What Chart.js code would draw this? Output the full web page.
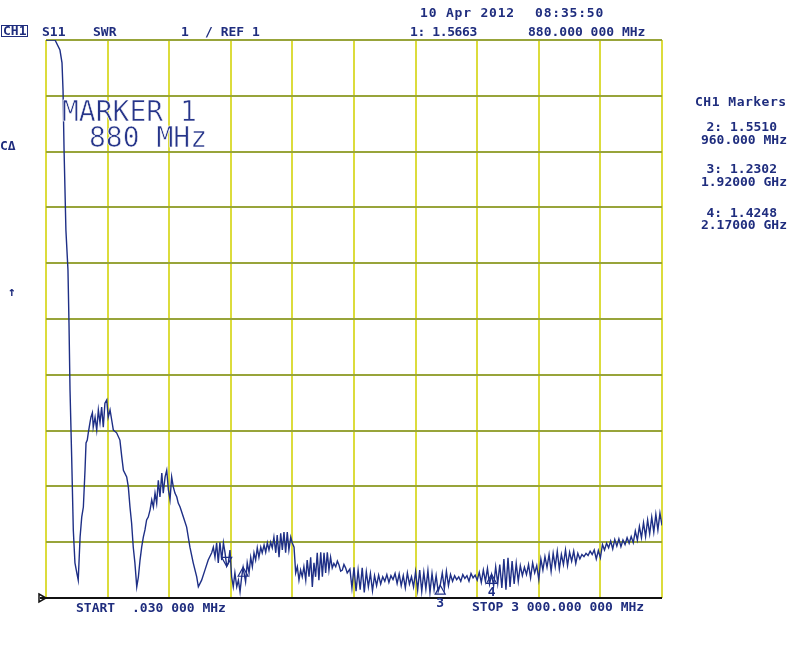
<!DOCTYPE html>
<html>
<head>
<meta charset="utf-8">
<title>S11 SWR</title>
<script src="https://cdn.jsdelivr.net/npm/chart.js@4.4.1/dist/chart.umd.min.js"></script>
<style>
  body { margin: 0; background: #fff; }
  #wrap { position: relative; width: 800px; height: 648px; overflow: hidden; }
  #chart { position: absolute; left: 0; top: 0; }
  .t { position: absolute; font: bold 13px 'DejaVu Sans Mono', monospace; color: #1f2d7e; line-height: 13px; white-space: pre; }
  .r { text-align: right; }
  .big { position: absolute; font: 28px 'DejaVu Sans Mono', monospace; color: #26358a; line-height: 28px; white-space: pre; -webkit-text-stroke: 0.6px #fff; }
  #ch1 { border: 1.5px solid #1f2d7e; padding: 0 1px; line-height: 10px; }
</style>
</head>
<body>
<div id="wrap">
  <canvas id="chart" width="800" height="648"></canvas>

  <div class="t" id="ch1" style="left:1px; top:25px;">CH1</div>
  <div class="t" style="left:42px; top:25px;">S11</div>
  <div class="t" style="left:93px; top:25px;">SWR</div>
  <div class="t" style="left:181px; top:25px;">1</div>
  <div class="t" style="left:205px; top:25px;">/ REF 1</div>

  <div class="t" style="left:420px; top:6px; letter-spacing:0.8px;">10 Apr 2012</div>
  <div class="t" style="left:535px; top:6px; letter-spacing:0.8px;">08:35:50</div>
  <div class="t" style="left:410px; top:25px; letter-spacing:-0.4px;">1: 1.5663</div>
  <div class="t" style="left:528px; top:25px;">880.000 000 MHz</div>

  <div class="t" style="left:695px; top:95px; letter-spacing:0.5px;">CH1 Markers</div>
  <div class="t r" style="right:23px; top:120px;">2: 1.5510</div>
  <div class="t r" style="right:13px; top:133px;">960.000 MHz</div>
  <div class="t r" style="right:23px; top:162px;">3: 1.2302</div>
  <div class="t r" style="right:13px; top:175px;">1.92000 GHz</div>
  <div class="t r" style="right:23px; top:206px;">4: 1.4248</div>
  <div class="t r" style="right:13px; top:218px;">2.17000 GHz</div>

  <div class="t" style="left:0px; top:139px;">CΔ</div>
  <div class="t" style="left:8px; top:285px;">↑</div>

  <div class="big" style="left:62px; top:98px;">MARKER 1</div>
  <div class="big" style="left:89px; top:124px;">880 MHz</div>

  <div class="t" style="left:76px; top:601px;">START</div>
  <div class="t" style="left:132px; top:601px;">.030 000 MHz</div>
  <div class="t" style="left:472px; top:600px;">STOP 3 000.000 000 MHz</div>
</div>

<script>
// sweep: frequency (MHz) and SWR
const startMHz = 0.03;
const stopMHz = 3000;
const swrRef = 1;
const swrTop = 11;

const sweepMHz = [
  0.03, 44, 68, 78, 83, 88, 97, 107, 112, 117, 125, 133, 141, 150, 157, 166, 174, 182, 190, 195,
  201, 206, 214, 219, 226, 230, 239, 247, 255, 263, 271, 279, 287, 296, 303, 312, 320, 328, 344, 360,
  369, 377, 393, 401, 409, 417, 425, 433, 442, 450, 458, 466, 474, 482, 490, 498, 507, 515, 523, 531,
  539, 547, 555, 564, 571, 580, 588, 596, 604, 612, 620, 628, 637, 644, 653, 669, 685, 701, 717, 734,
  742, 758, 774, 790, 807, 815, 823, 831, 839, 847, 856, 864, 872, 880, 888, 896, 904, 912, 920, 929,
  937, 945, 953, 960, 972, 980, 989, 997, 1005, 1013, 1021, 1029, 1037, 1046, 1053, 1062, 1070, 1078, 1086, 1094,
  1102, 1110, 1119, 1126, 1135, 1143, 1151, 1159, 1167, 1175, 1183, 1192, 1199, 1208, 1216, 1224, 1232, 1240, 1248, 1256,
  1265, 1272, 1281, 1289, 1297, 1305, 1313, 1321, 1329, 1338, 1346, 1354, 1362, 1370, 1378, 1386, 1394, 1402, 1411, 1419,
  1427, 1435, 1443, 1451, 1459, 1467,
  1480, 1490, 1500, 1510, 1520, 1530, 1540, 1550, 1560, 1570,
  1580, 1590, 1600, 1610, 1620, 1630, 1640, 1650, 1660, 1670,
  1680, 1690, 1700, 1710, 1720, 1730, 1740, 1750, 1760, 1770,
  1780, 1790, 1800, 1810, 1820, 1830, 1840, 1850, 1860, 1870,
  1880, 1890, 1900, 1910, 1920, 1930, 1940, 1950, 1960, 1970,
  1980, 1990, 2000, 2010, 2020, 2030, 2040, 2050, 2060, 2070,
  2080, 2090, 2100, 2110, 2120, 2130, 2140, 2150, 2160, 2170,
  2180, 2190, 2200, 2210, 2220, 2230, 2240, 2250, 2260, 2270,
  2280, 2290, 2300, 2310, 2320, 2330, 2340, 2350, 2360, 2370,
  2380, 2390, 2400, 2410, 2420, 2430, 2440, 2450, 2460, 2470,
  2480, 2490, 2500, 2510, 2520, 2530, 2540, 2550, 2560, 2570,
  2580, 2590, 2600, 2610, 2620, 2630, 2640, 2650, 2660, 2670,
  2680, 2690, 2700, 2710, 2720, 2730, 2740, 2750, 2760, 2770,
  2780, 2790, 2800, 2810, 2820, 2830, 2840, 2850, 2860, 2870,
  2880, 2890, 2900, 2910, 2920, 2930, 2940, 2950, 2960, 2970,
  2980, 2990, 3000
];

const sweepSWR = [
  11.0, 11.0, 10.82, 10.59, 10.10, 9.03, 7.59, 6.88, 5.93, 4.73, 3.53, 2.22, 1.63, 1.45, 1.32, 2.09, 2.45, 2.63, 3.29, 3.78,
  3.83, 3.96, 4.14, 4.24, 4.32, 4.06, 4.24, 4.01, 4.37, 4.14, 4.42, 4.06, 4.49, 4.55, 4.24, 4.37, 4.19, 4.01, 3.96, 3.83,
  3.53, 3.29, 3.17, 2.99, 2.63, 2.34, 1.91, 1.63, 1.20, 1.38, 1.68, 1.91, 2.09, 2.22, 2.40, 2.45, 2.58, 2.76, 2.63, 2.88,
  2.70, 3.11, 2.81, 3.24, 2.88, 3.17, 3.29, 2.94, 2.76, 3.17, 2.99, 2.88, 2.81, 2.70, 2.63, 2.45, 2.27, 1.91, 1.63, 1.38,
  1.20, 1.32, 1.50, 1.68, 1.81, 1.91, 1.73, 1.99, 1.63, 2.00, 1.68, 1.99, 1.81, 1.57, 1.63, 1.86, 1.38, 1.20, 1.45, 1.20,
  1.32, 1.11, 1.38, 1.55, 1.29, 1.63, 1.45, 1.73, 1.56, 1.81, 1.68, 1.90, 1.73, 1.91, 1.81, 1.95, 1.82, 1.99, 1.86, 2.00,
  1.90, 2.09, 1.81, 2.13, 1.73, 2.16, 1.86, 2.18, 1.81, 2.18, 1.86, 2.09, 1.99, 1.91, 1.45, 1.56, 1.32, 1.50, 1.38, 1.56,
  1.32, 1.68, 1.38, 1.73, 1.20, 1.63, 1.38, 1.81, 1.32, 1.82, 1.38, 1.81, 1.45, 1.82, 1.50, 1.73, 1.54, 1.62, 1.56, 1.66,
  1.59, 1.48, 1.50, 1.60, 1.54, 1.45,
  1.52, 1.18, 1.55, 1.12, 1.50, 1.15, 1.54, 1.10, 1.47, 1.20,
  1.44, 1.13, 1.40, 1.22, 1.41, 1.25, 1.38, 1.30, 1.42, 1.28,
  1.40, 1.33, 1.44, 1.26, 1.43, 1.22, 1.40, 1.18, 1.45, 1.25,
  1.38, 1.20, 1.47, 1.14, 1.50, 1.12, 1.46, 1.16, 1.49, 1.10,
  1.44, 1.15, 1.40, 1.12, 1.23, 1.45, 1.17, 1.48, 1.22, 1.42,
  1.30, 1.40, 1.33, 1.38, 1.30, 1.42, 1.35, 1.40, 1.30, 1.44,
  1.36, 1.41, 1.32, 1.46, 1.28, 1.50, 1.30, 1.53, 1.25, 1.42,
  1.22, 1.56, 1.26, 1.60, 1.18, 1.70, 1.15, 1.72, 1.20, 1.66,
  1.25, 1.62, 1.30, 1.58, 1.40, 1.55, 1.42, 1.60, 1.36, 1.63,
  1.45, 1.58, 1.33, 1.70, 1.50, 1.74, 1.55, 1.78, 1.48, 1.80,
  1.56, 1.84, 1.52, 1.78, 1.60, 1.86, 1.58, 1.82, 1.66, 1.84,
  1.62, 1.80, 1.70, 1.78, 1.74, 1.80, 1.76, 1.84, 1.78, 1.86,
  1.70, 1.85, 1.72, 1.96, 1.86, 1.98, 1.90, 2.02, 1.88, 2.05,
  1.93, 2.06, 1.92, 2.04, 1.96, 2.08, 1.98, 2.10, 1.99, 2.20,
  2.04, 2.28, 2.08, 2.35, 2.10, 2.40, 2.15, 2.45, 2.18, 2.50,
  2.22, 2.52, 2.30
];

// markers (marker 1 is the active one)
const markerMHz = [880, 960, 1920, 2170];
const markerSWR = [1.5663, 1.5510, 1.2302, 1.4248];
const markerTag = ['', '', '3', '4'];

const traceColor = '#1e2f86';

const analyzerPlugin = {
    id: 'analyzer',
    afterDatasetsDraw(chart) {
        const ctx = chart.ctx;
        const xs = chart.scales.x;
        const ys = chart.scales.y;
        const area = chart.chartArea;

        ctx.save();
        // reference line along the bottom plus the ref pointer on the left
        ctx.strokeStyle = '#111';
        ctx.lineWidth = 2;
        ctx.beginPath();
        ctx.moveTo(area.left - 6, area.bottom);
        ctx.lineTo(area.right, area.bottom);
        ctx.stroke();
        ctx.lineWidth = 1.5;
        ctx.beginPath();
        ctx.moveTo(area.left - 7, area.bottom - 4);
        ctx.lineTo(area.left, area.bottom);
        ctx.lineTo(area.left - 7, area.bottom + 4);
        ctx.closePath();
        ctx.stroke();

        // marker triangles
        ctx.strokeStyle = traceColor;
        ctx.fillStyle = traceColor;
        ctx.lineWidth = 1.2;
        ctx.font = 'bold 13px "DejaVu Sans Mono", monospace';
        ctx.textAlign = 'center';
        ctx.textBaseline = 'middle';
        markerMHz.forEach((f, i) => {
            const px = xs.getPixelForValue(f);
            const py = ys.getPixelForValue(markerSWR[i]);
            const dir = i === 0 ? -1 : 1;   // active marker points down onto the trace
            ctx.beginPath();
            ctx.moveTo(px, py);
            ctx.lineTo(px - 5, py + dir * 9);
            ctx.lineTo(px + 5, py + dir * 9);
            ctx.closePath();
            ctx.stroke();
            if (markerTag[i]) {
                ctx.fillText(markerTag[i], px, py + 18);
            }
        });
        ctx.restore();
    }
};

new Chart(document.getElementById('chart'), {
    type: 'line',
    data: {
        datasets: [{
            label: 'S11 SWR',
            data: sweepMHz.map((f, i) => ({ x: f, y: sweepSWR[i] })),
            borderColor: traceColor,
            borderWidth: 1.4,
            pointRadius: 0,
            tension: 0,
            fill: false
        }]
    },
    options: {
        responsive: false,
        animation: false,
        events: [],
        layout: { padding: { left: 46, top: 40, right: 138, bottom: 50 } },
        plugins: {
            legend: { display: false },
            tooltip: { enabled: false }
        },
        scales: {
            x: {
                type: 'linear',
                min: startMHz,
                max: stopMHz,
                ticks: { display: false, stepSize: 300 },
                grid: { color: '#dcdc3c', lineWidth: 2, drawTicks: false },
                border: { display: false }
            },
            y: {
                min: swrRef,
                max: swrTop,
                ticks: { display: false, stepSize: 1 },
                grid: { color: '#98a43a', lineWidth: 2, drawTicks: false },
                border: { display: false }
            }
        }
    },
    plugins: [analyzerPlugin]
});
</script>
</body>
</html>
